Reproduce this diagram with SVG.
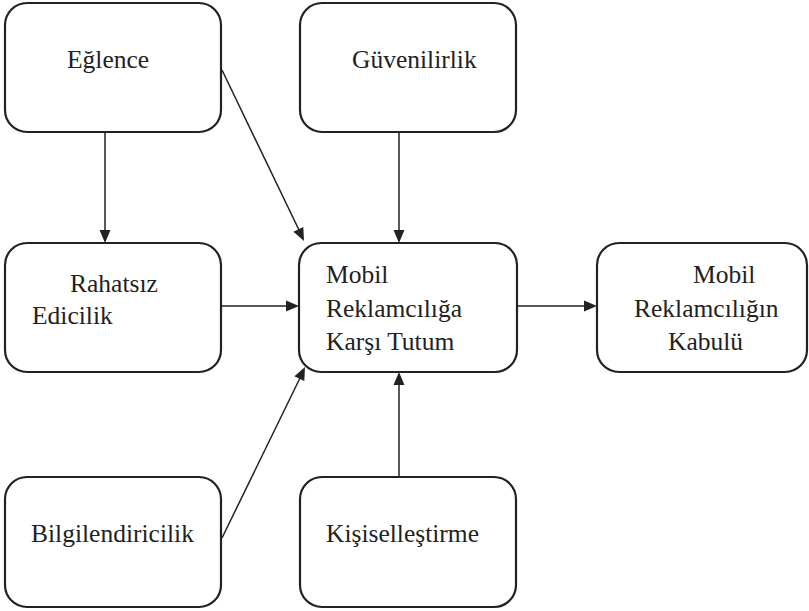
<svg xmlns="http://www.w3.org/2000/svg" width="809" height="611" viewBox="0 0 809 611">
<rect width="809" height="611" fill="#fff"/>
<g id="connectors" stroke="#222" stroke-width="1.5" fill="#222">
<line x1="105" y1="128" x2="105" y2="231"/>
<polygon points="105,243 99.5,230 110.5,230" stroke="none"/>
<line x1="222" y1="70" x2="299" y2="230"/>
<polygon points="304,241 293.4,231.7 303.3,226.9" stroke="none"/>
<line x1="399" y1="132" x2="399" y2="231"/>
<polygon points="399,243 393.5,230 404.5,230" stroke="none"/>
<line x1="221" y1="306" x2="287" y2="306"/>
<polygon points="299,306 286,300.5 286,311.5" stroke="none"/>
<line x1="517" y1="306" x2="585" y2="306"/>
<polygon points="597,306 584,300.5 584,311.5" stroke="none"/>
<line x1="222" y1="538" x2="300" y2="378"/>
<polygon points="305,367 304.3,381.1 294.4,376.3" stroke="none"/>
<line x1="399" y1="477" x2="399" y2="384"/>
<polygon points="399,372 393.5,385 404.5,385" stroke="none"/>
</g>
<g id="eglence">
<rect x="5" y="3" width="216" height="129" rx="22" fill="#fff" stroke="#222" stroke-width="2.2"/>
<text x="67" y="68" font-family="Liberation Serif" font-size="25.5" fill="#222">Eğlence</text>
</g>
<g id="guvenilirlik">
<rect x="300" y="3" width="216" height="129" rx="22" fill="#fff" stroke="#222" stroke-width="2.2"/>
<text x="352" y="68" font-family="Liberation Serif" font-size="25.5" fill="#222">Güvenilirlik</text>
</g>
<g id="rahatsiz">
<rect x="5" y="243" width="216" height="129" rx="22" fill="#fff" stroke="#222" stroke-width="2.2"/>
<text x="70" y="292" font-family="Liberation Serif" font-size="25.5" fill="#222">Rahatsız</text>
<text x="32" y="324" font-family="Liberation Serif" font-size="25.5" fill="#222">Edicilik</text>
</g>
<g id="tutum">
<rect x="299" y="243" width="218" height="129" rx="22" fill="#fff" stroke="#222" stroke-width="2.2"/>
<text x="326" y="283" font-family="Liberation Serif" font-size="25.5" fill="#222">Mobil</text>
<text x="326" y="317" font-family="Liberation Serif" font-size="25.5" fill="#222">Reklamcılığa</text>
<text x="326" y="350" font-family="Liberation Serif" font-size="25.5" fill="#222">Karşı Tutum</text>
</g>
<g id="kabul">
<rect x="597" y="243" width="210" height="129" rx="22" fill="#fff" stroke="#222" stroke-width="2.2"/>
<text x="693" y="283" font-family="Liberation Serif" font-size="25.5" fill="#222">Mobil</text>
<text x="634" y="317" font-family="Liberation Serif" font-size="25.5" fill="#222">Reklamcılığın</text>
<text x="668" y="350" font-family="Liberation Serif" font-size="25.5" fill="#222">Kabulü</text>
</g>
<g id="bilgilendiricilik">
<rect x="5" y="477" width="216" height="130" rx="22" fill="#fff" stroke="#222" stroke-width="2.2"/>
<text x="31" y="542" font-family="Liberation Serif" font-size="25.5" fill="#222">Bilgilendiricilik</text>
</g>
<g id="kisisellestirme">
<rect x="300" y="477" width="216" height="130" rx="22" fill="#fff" stroke="#222" stroke-width="2.2"/>
<text x="326" y="542" font-family="Liberation Serif" font-size="25.5" fill="#222">Kişiselleştirme</text>
</g>
</svg>
